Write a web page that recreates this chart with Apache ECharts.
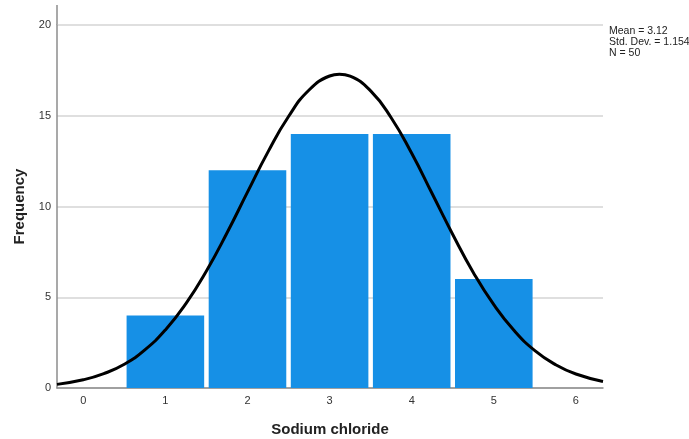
<!DOCTYPE html>
<html>
<head>
<meta charset="utf-8">
<script src="https://cdn.jsdelivr.net/npm/echarts@6/dist/echarts.min.js"></script>
<style>
html,body{margin:0;padding:0;background:#fff;}
#c{width:689px;height:439px;}
</style>
</head>
<body>
<div id="c"></div>
<script>
// Histogram bins (bin centres) and frequencies
const binCenters = [1, 2, 3, 4, 5];
const frequencies = [4, 12, 14, 14, 6];
// Normal curve (x, frequency)
const curveX = [-0.32, 0, 0.25, 0.5, 0.75, 1.0, 1.25, 1.5, 1.75, 2.0, 2.25, 2.5, 2.75, 3.0, 3.12, 3.25, 3.5, 3.75, 4.0, 4.25, 4.5, 4.75, 5.0, 5.25, 5.5, 5.75, 6.0, 6.33];
const curveY = [0.20, 0.45, 0.79, 1.31, 2.10, 3.20, 4.65, 6.45, 8.54, 10.79, 13.01, 14.96, 16.42, 17.19, 17.29, 17.18, 16.37, 14.89, 12.93, 10.70, 8.46, 6.37, 4.59, 3.15, 2.06, 1.29, 0.77, 0.36];
const yTicks = [0, 5, 10, 15, 20];
const xTicks = [0, 1, 2, 3, 4, 5, 6];
const statsText = ['Mean = 3.12', 'Std. Dev. = 1.154', 'N = 50'];

const chart = echarts.init(document.getElementById('c'), null, {renderer: 'canvas'});
const font = 'Arial, "Liberation Sans", sans-serif';
chart.setOption({
  animation: false,
  backgroundColor: '#fff',
  grid: {left: 57, right: 86, top: 25, bottom: 51, containLabel: false, outerBoundsMode: 'none'},
  xAxis: {
    type: 'value',
    min: -0.32,
    max: 6.33,
    splitNumber: 7,
    name: 'Sodium chloride',
    nameLocation: 'middle',
    nameGap: 34,
    nameTextStyle: {fontFamily: font, fontSize: 15, fontWeight: 'bold', color: '#222'},
    axisLine: {show: true, onZero: false, lineStyle: {color: '#8c8c8c', width: 1.5}},
    axisTick: {show: false},
    splitLine: {show: false},
    axisLabel: {
      fontFamily: font, fontSize: 11, color: '#333', margin: 7,
      formatter: v => xTicks.indexOf(v) >= 0 ? String(v) : ''
    }
  },
  yAxis: {
    type: 'value',
    min: 0,
    max: 20,
    interval: 5,
    name: 'Frequency',
    nameLocation: 'middle',
    nameGap: 30,
    nameRotate: 90,
    nameTextStyle: {fontFamily: font, fontSize: 15, fontWeight: 'bold', color: '#222'},
    axisLine: {show: true, onZero: false, lineStyle: {color: '#8c8c8c', width: 1.5}},
    axisTick: {show: false},
    splitLine: {show: true, lineStyle: {color: '#d4d4d4', width: 1.5}},
    axisLabel: {
      fontFamily: font, fontSize: 11, color: '#333', margin: 6,
      formatter: v => yTicks.indexOf(v) >= 0 ? String(v) : ''
    }
  },
  graphic: [
    {type: 'line', shape: {x1: 57, y1: 5, x2: 57, y2: 25}, style: {stroke: '#8c8c8c', lineWidth: 1.5}},
    {type: 'text', left: 609, top: 26, style: {text: statsText.join('\n'), font: '10.5px ' + font, fill: '#222', lineHeight: 11}}
  ],
  series: [
    {
      type: 'bar',
      data: binCenters.map((c, i) => [c, frequencies[i]]),
      barWidth: '94.5%',
      itemStyle: {color: '#1690e6'},
      z: 2
    },
    {
      type: 'line',
      data: curveX.map((x, i) => [x, curveY[i]]),
      smooth: true,
      showSymbol: false,
      lineStyle: {color: '#000', width: 3},
      z: 3
    }
  ]
});
</script>
</body>
</html>
